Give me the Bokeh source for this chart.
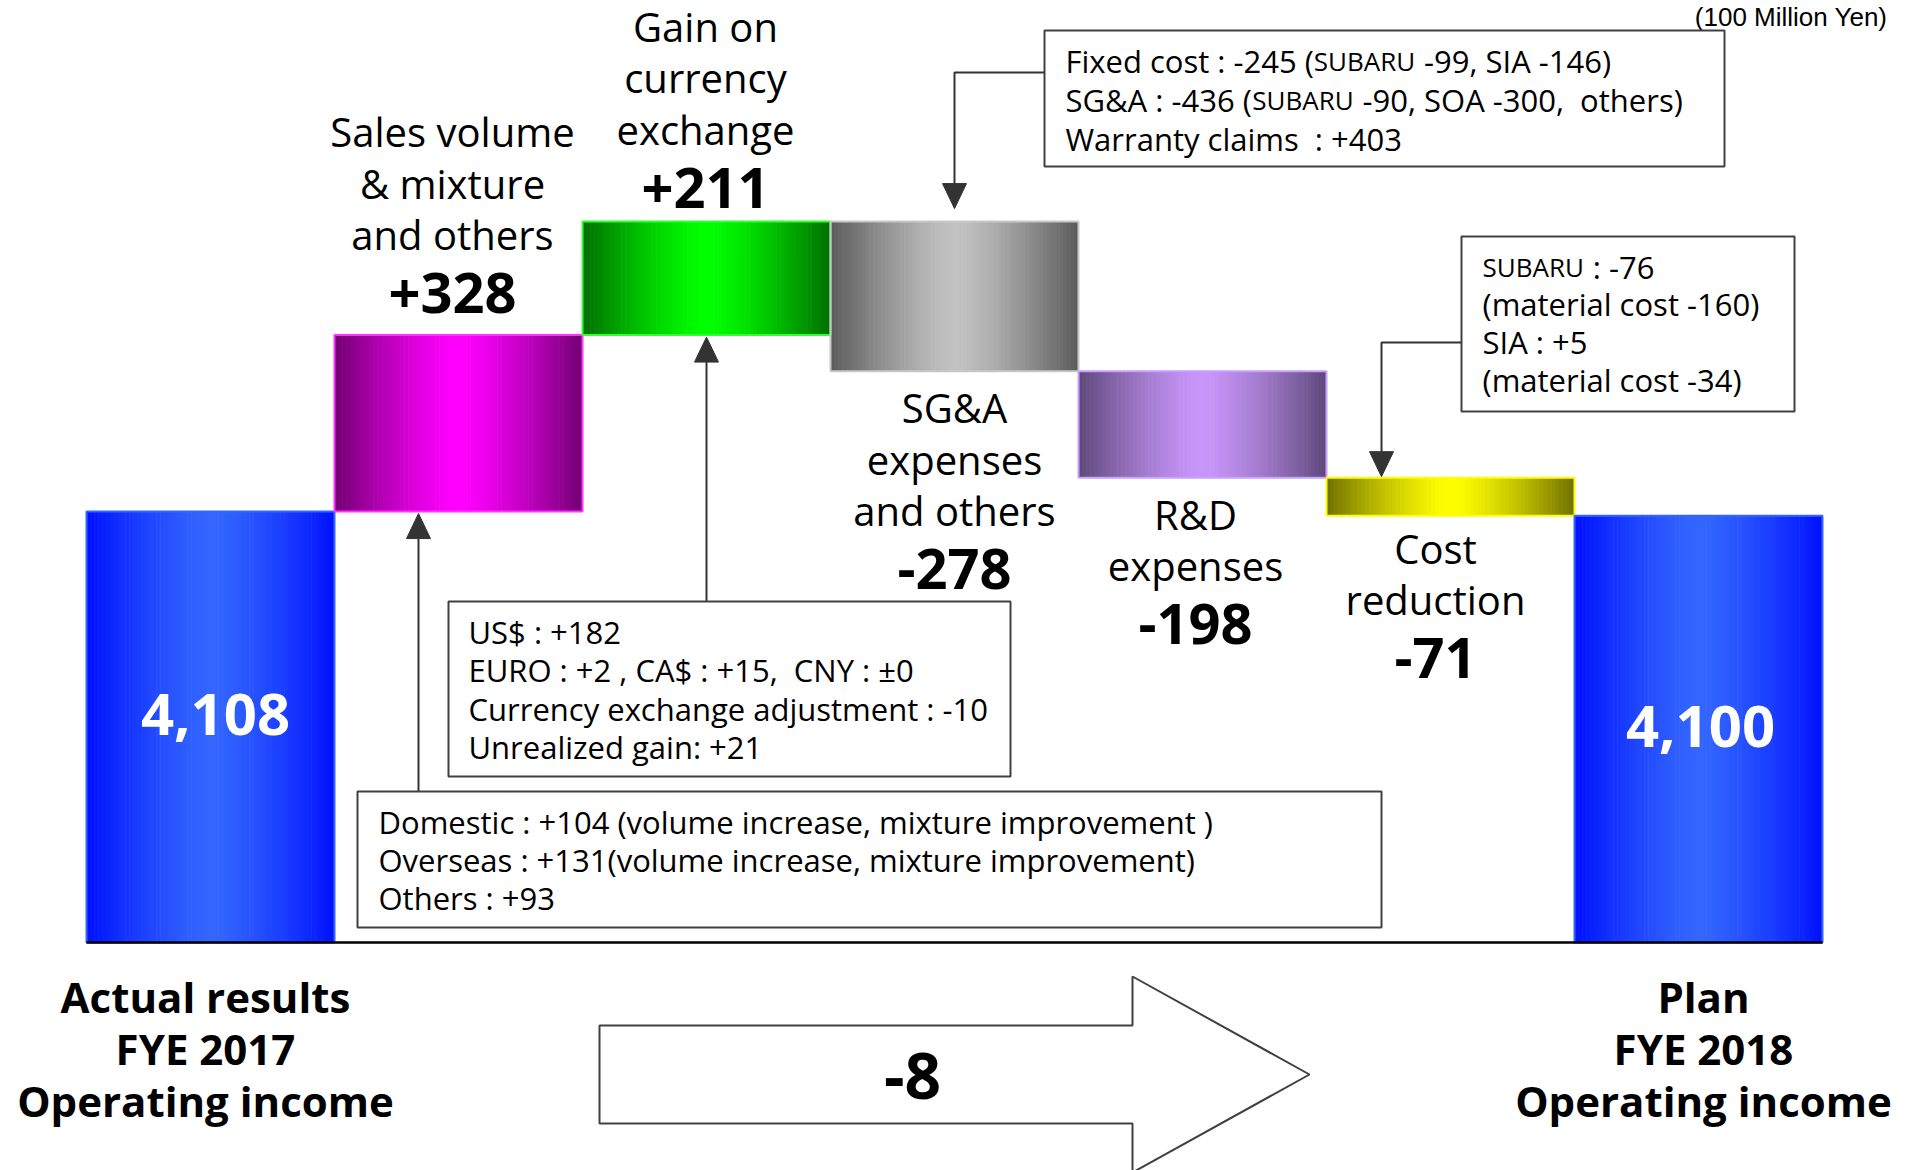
import numpy as np
from bokeh.plotting import figure
from bokeh.models import Range1d
from bokeh.embed import file_html
from bokeh.resources import INLINE
from bokeh.core.properties import value

# ---- data: operating income bridge (100 million yen) ----
start_label = ["Actual results", "FYE 2017", "Operating income"]
end_label = ["Plan", "FYE 2018", "Operating income"]
start_value = 4108
end_value = 4100
step_names = [
    ["Sales volume", "& mixture", "and others"],
    ["Gain on", "currency", "exchange"],
    ["SG&A", "expenses", "and others"],
    ["R&D", "expenses"],
    ["Cost", "reduction"],
]
step_values = [328, 211, -278, -198, -71]
unit_label = "(100 Million Yen)"

sales_notes = [
    "Domestic : +104 (volume increase, mixture improvement )",
    "Overseas : +131(volume increase, mixture improvement)",
    "Others : +93",
]
fx_notes = [
    "US$ : +182",
    "EURO : +2 , CA$ : +15,  CNY : \u00b10",
    "Currency exchange adjustment : -10",
    "Unrealized gain: +21",
]
# segments flagged 1 are set in small capitals
sga_notes = [
    [("Fixed cost : -245 (", 0), ("SUBARU", 1), (" -99, SIA -146)", 0)],
    [("SG&A : -436 (", 0), ("SUBARU", 1), (" -90, SOA -300,  others)", 0)],
    [("Warranty claims  : +403", 0)],
]
cost_notes = [
    [("SUBARU", 1), (" : -76", 0)],
    [("(material cost -160)", 0)],
    [("SIA : +5", 0)],
    [("(material cost -34)", 0)],
]

# ---- layout ----
W, H = 1912, 1170
FONT = "Open Sans"
slot_px, left_px = 248.0, 86.0
floor_value = 3307          # broken value axis starts here
px_per_unit = 0.538
baseline_px = 942.0
LIFT = 0.41                 # baseline correction, in em

x0 = -left_px / slot_px
x1 = (W - left_px) / slot_px
y_hi = floor_value + baseline_px / px_per_unit
y_lo = floor_value - (H - baseline_px) / px_per_unit
DX = (x1 - x0) / W
DY = (y_hi - y_lo) / H


def X(px):
    return x0 + px * DX


def Y(py):
    return y_hi - py * DY


def TY(py, size):
    """data y for a text whose baseline sits at pixel row py"""
    return Y(py - LIFT * size)


def lift(y, size):
    return y + LIFT * size * DY


p = figure(width=W, height=H, output_backend="svg", toolbar_location=None,
           x_range=Range1d(x0, x1), y_range=Range1d(y_lo, y_hi),
           x_axis_type=None, y_axis_type=None, min_border=0)
p.grid.visible = False
p.outline_line_color = None
p.background_fill_color = "white"
p.border_fill_color = "white"

# ---- bar extents ----
bottoms, tops = [floor_value], [start_value]
level = start_value
for v in step_values:
    new = level + v
    bottoms.append(min(level, new))
    tops.append(max(level, new))
    level = new
bottoms.append(floor_value)
tops.append(end_value)
n_bars = len(tops)

# edge colour, centre colour, outline colour
palette = [
    ((0, 16, 255), (51, 102, 255), "#3366ff"),
    ((112, 0, 112), (255, 0, 255), "#ff33ff"),
    ((0, 110, 0), (0, 255, 0), "#33ff33"),
    ((90, 90, 90), (194, 194, 194), "#c8c8c8"),
    ((94, 72, 122), (200, 150, 250), "#c8a0ff"),
    ((112, 112, 0), (255, 255, 0), "#ffff00"),
    ((0, 16, 255), (51, 102, 255), "#3366ff"),
]

# horizontal shading of every bar, built from thin strips
N = 64
sl, sr, st, sb, sc = [], [], [], [], []
for i in range(n_bars):
    edge, centre, _ = palette[i]
    for j in range(N):
        u = (j + 0.5) / N
        t = abs(2 * u - 1) ** 1.35
        c = tuple(int(round(centre[k] + (edge[k] - centre[k]) * t)) for k in range(3))
        sl.append(i + j / N)
        sr.append(i + (j + 1) / N + (0.6 * DX if j < N - 1 else 0))
        st.append(tops[i])
        sb.append(bottoms[i])
        sc.append("#%02x%02x%02x" % c)
p.quad(left=sl, right=sr, top=st, bottom=sb, fill_color=sc, line_color=None)
p.quad(left=list(range(n_bars)), right=[i + 1 for i in range(n_bars)], top=tops,
       bottom=bottoms, fill_color=None, line_color=[c[2] for c in palette], line_width=2)

# base line
p.segment(x0=[0], y0=[floor_value], x1=[n_bars], y1=[floor_value],
          line_color="black", line_width=2.5)

# ---- bar captions ----
def fmt(v):
    return f"{v:+,d}"

CAP_PX, NUM_PX = 40, 56
cap_dx = [-6, -1, 0, -7, -15]       # px shift of each caption block
cap_dy = [-22, -14, 53, 53, 49]     # px from bar edge to nearest baseline
line_gap, num_gap = 51.5, 65
tx, ty, tt, nx, ny, nt = [], [], [], [], [], []
for k, (names, v) in enumerate(zip(step_names, step_values)):
    i = k + 1
    xc = i + 0.5 + cap_dx[k] * DX
    if v > 0:
        num_base = tops[i] + (-cap_dy[k] - 3) * DY
        first = num_base + (num_gap + line_gap * (len(names) - 1)) * DY
    else:
        first = bottoms[i] - cap_dy[k] * DY
        num_base = first - (line_gap * (len(names) - 1) + num_gap) * DY
    for m, name in enumerate(names):
        tx.append(xc)
        ty.append(lift(first - m * line_gap * DY, CAP_PX))
        tt.append(name)
    nx.append(xc)
    ny.append(lift(num_base, NUM_PX))
    nt.append(fmt(v))
p.text(x=tx, y=ty, text=tt, text_font=value(FONT), text_font_size=f"{CAP_PX}px",
       text_align="center", text_baseline="alphabetic", text_color="black")
p.text(x=nx, y=ny, text=nt, text_font=value(FONT), text_font_size=f"{NUM_PX}px",
       text_font_style="bold", text_align="center", text_baseline="alphabetic",
       text_color="black")

# totals inside the end bars
TOT_PX = 58
p.text(x=[0.5 + 5 * DX, n_bars - 0.5 + 2 * DX],
       y=[lift(start_value - 227 * DY, TOT_PX), lift(end_value - 234 * DY, TOT_PX)],
       text=[f"{start_value:,}", f"{end_value:,}"], text_font=value(FONT),
       text_font_size=f"{TOT_PX}px", text_font_style="bold", text_align="center",
       text_baseline="alphabetic", text_color="white")

# bottom captions
FOOT_PX = 42
bx, by, bt = [], [], []
for xc, lines in ((0.5 - 5 * DX, start_label), (n_bars - 0.5 + 5 * DX, end_label)):
    for m, s in enumerate(lines):
        bx.append(xc)
        by.append(TY(1013 + m * 52, FOOT_PX))
        bt.append(s)
p.text(x=bx, y=by, text=bt, text_font=value(FONT), text_font_size=f"{FOOT_PX}px",
       text_font_style="bold", text_align="center", text_baseline="alphabetic",
       text_color="black")

# overall change arrow
ax = [599, 1132, 1132, 1309, 1132, 1132, 599]
ay = [1025, 1025, 976, 1074, 1172, 1123, 1123]
p.patch(x=[X(a) for a in ax], y=[Y(a) for a in ay], fill_color="white",
        line_color="#404040", line_width=2)
p.text(x=[X(912)], y=[TY(1102, 64)], text=[f"{end_value - start_value:+,d}"],
       text_font=value(FONT), text_font_size="64px", text_font_style="bold",
       text_align="center", text_baseline="alphabetic", text_color="black")

# unit
p.text(x=[X(1887)], y=[TY(27, 26)], text=[unit_label], text_font=value("Liberation Sans"),
       text_font_size="26px", text_align="right", text_baseline="alphabetic",
       text_color="black")

# ---- call-out boxes ----
OS_W = {" ": .26, "\u00a0": .26, ",": .243, "-": .322, ":": .266, "(": .296, ")": .296,
        "&": .736, "A": .633, "B": .648, "C": .631, "D": .729, "E": .556, "F": .516,
        "G": .728, "I": .279, "O": .779, "R": .625, "S": .549, "U": .738, "a": .556,
        "c": .476, "d": .613, "e": .561, "i": .253, "o": .604, "s": .477, "t": .344,
        "x": .525}


def text_w(s, size):
    return sum(OS_W.get(ch, .572) for ch in s) * size


NOTE_PX, SMALL_PX = 31, 26
BOX_LINE = "#404040"
ARROW = "#333333"


def box(l, t, r, b):
    p.quad(left=[X(l)], right=[X(r)], top=[Y(t)], bottom=[Y(b)],
           fill_color="white", line_color=BOX_LINE, line_width=2)


def note_lines(xpx, base_px, gap, lines):
    xs, ys, ts, fs = [], [], [], []
    for m, segs in enumerate(lines):
        if isinstance(segs, str):
            segs = [(segs, 0)]
        cur = xpx
        for s, small in segs:
            size = SMALL_PX if small else NOTE_PX
            body = s.lstrip(" ")
            cur += (len(s) - len(body)) * OS_W[" "] * size
            body = body.replace("  ", " \u00a0")
            xs.append(X(cur))
            ys.append(TY(base_px + m * gap, NOTE_PX))
            ts.append(body)
            fs.append(f"{size}px")
            cur += text_w(body, size)
    p.text(x=xs, y=ys, text=ts, text_font=value(FONT), text_font_size=fs,
           text_align="left", text_baseline="alphabetic", text_color="black")


def head(xc, tip, up):
    hw, hh = 12 * DX, 25 * DY
    base = tip - hh if up else tip + hh
    p.patch(x=[xc - hw, xc + hw, xc], y=[base, base, tip], fill_color=ARROW,
            line_color=ARROW, line_width=1)
    return base


# SG&A box with elbow arrow down onto the SG&A bar
box(1044, 30, 1724, 166)
note_lines(1065, 73, 39, sga_notes)
tip = tops[3] + 13 * DY
base = head(3.5, tip, up=False)
p.line(x=[X(1044), 3.5, 3.5], y=[Y(72), Y(72), base], line_color=ARROW, line_width=2)

# cost reduction box with elbow arrow down onto the cost bar
box(1461, 236, 1794, 411)
note_lines(1482, 279, 37.7, cost_notes)
cx = 5 + (1381 - 86 - 5 * slot_px) / slot_px
tip = tops[5] + 1 * DY
base = head(cx, tip, up=False)
p.line(x=[X(1461), cx, cx], y=[Y(342), Y(342), base], line_color=ARROW, line_width=2)

# currency box with arrow up to the currency bar
tip = bottoms[2] - 2 * DY
base = head(2.5, tip, up=True)
p.line(x=[2.5, 2.5], y=[Y(601), base], line_color=ARROW, line_width=2)
box(448, 601, 1010, 776)
note_lines(468, 644, 38.5, fx_notes)

# sales volume box with arrow up to the sales bar
sx = 1 + (418 - 86 - slot_px) / slot_px
tip = bottoms[1] - 2 * DY
base = head(sx, tip, up=True)
p.line(x=[sx, sx], y=[Y(791), base], line_color=ARROW, line_width=2)
box(357, 791, 1381, 927)
note_lines(378, 834, 38, sales_notes)

open("out.html", "w").write(file_html(p, INLINE))
